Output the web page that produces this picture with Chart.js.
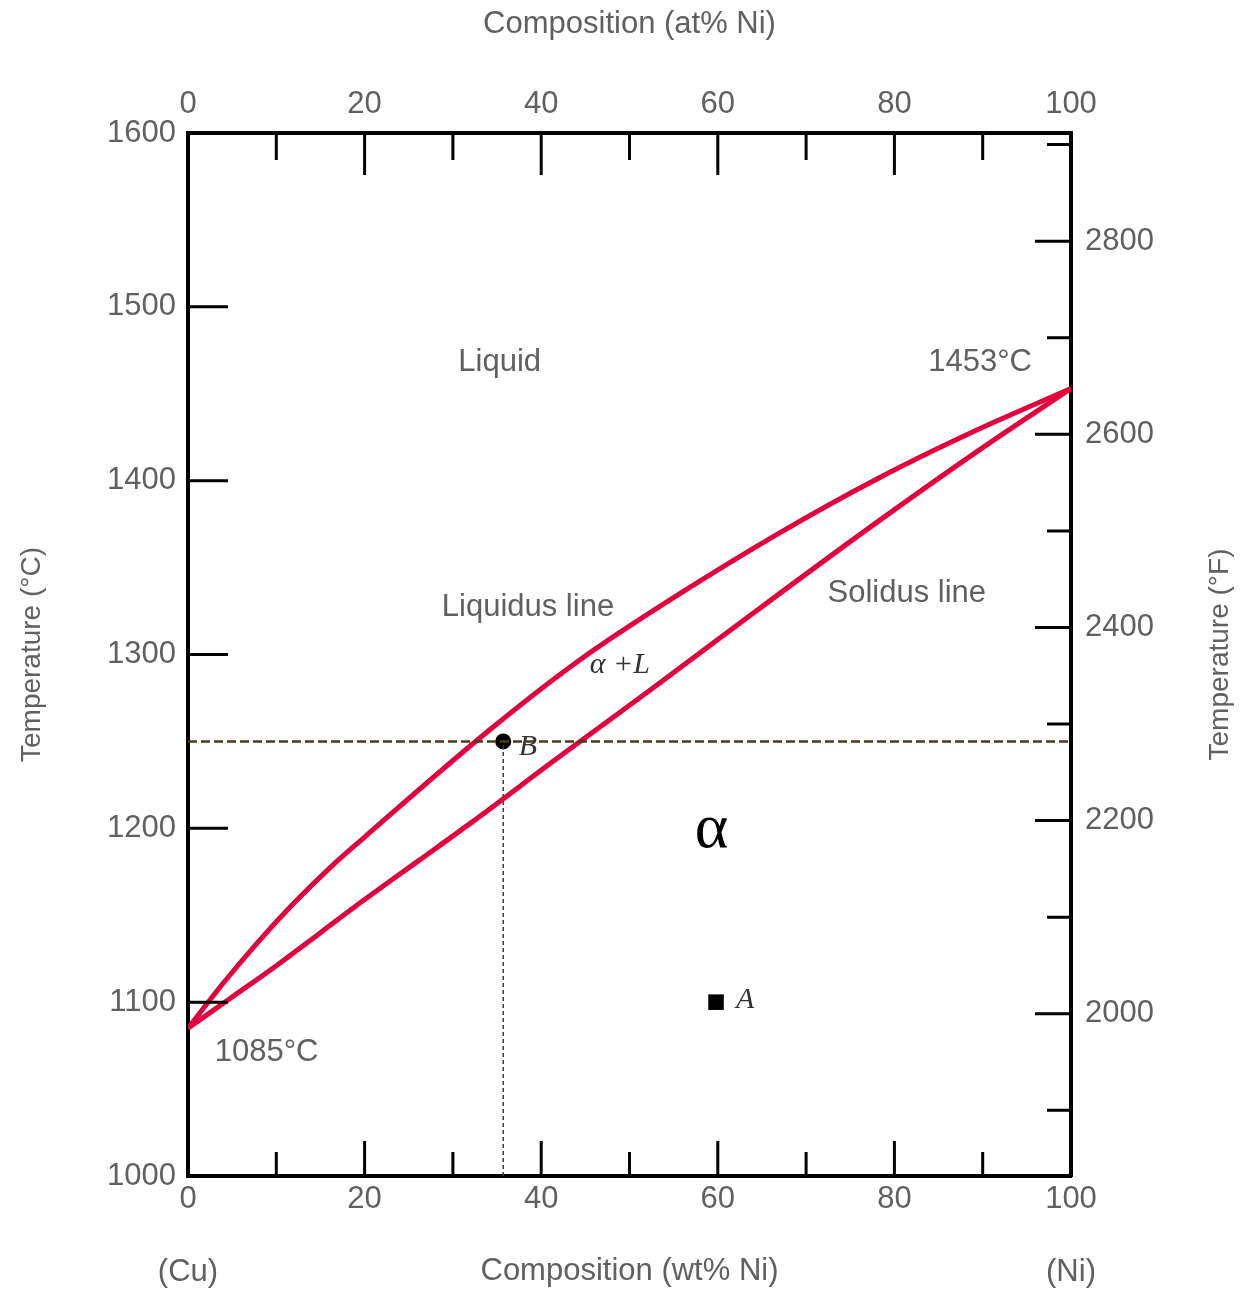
<!DOCTYPE html>
<html>
<head>
<meta charset="utf-8">
<title>Cu-Ni phase diagram</title>
<script src="https://cdn.jsdelivr.net/npm/chart.js@4.4.1/dist/chart.umd.min.js"></script>
<style>
  html, body { margin: 0; padding: 0; background: #fff; }
  #wrap { width: 1240px; height: 1290px; }
</style>
</head>
<body>
<div id="wrap"><canvas id="phaseChart" width="1240" height="1290"></canvas></div>
<script>
// --- DATA ---
// liquidus line: composition (wt% Ni) and temperature (°C)
const liquidusWt = [0, 4, 8, 12, 16, 20, 34, 44.4, 55.7, 67, 78.4, 89.7, 100];
const liquidusT  = [1085, 1111, 1135, 1157, 1177, 1195, 1256, 1297, 1335, 1370, 1402, 1430, 1453];
// solidus line
const solidusWt = [0, 5, 10, 15, 20, 26, 32, 42, 53, 63, 78, 90, 100];
const solidusT  = [1085, 1103, 1121, 1140, 1159, 1181, 1203, 1241, 1282, 1320, 1376, 1419, 1453];

// tie line at point B and the two marked points
const tieLineT = 1250;
const pointB = { x: 35.7, y: 1250 };
const pointA = { x: 59.8, y: 1100 };

// axis ticks
const wtTicks = [0, 10, 20, 30, 40, 50, 60, 70, 80, 90, 100];
const celsiusTicks = [1000, 1100, 1200, 1300, 1400, 1500, 1600];
const fahrenheitTicks = [1900, 2000, 2100, 2200, 2300, 2400, 2500, 2600, 2700, 2800, 2900];
const tMinC = 1000, tMaxC = 1600;
const toF = c => c * 9 / 5 + 32;

// text inside the plot: [text, wt% Ni, °C, kind]
const plotLabels = [
    ['Liquid', 35.3, 1468, 'sans'],
    ['1453°C', 89.7, 1468, 'sans'],
    ['Liquidus line', 38.5, 1327, 'sans'],
    ['Solidus line', 81.4, 1335, 'sans'],
    ['1085°C', 8.9, 1071, 'sans'],
    ['α +L', 48.9, 1294, 'italic'],
    ['B', 38.5, 1247, 'italic'],
    ['A', 63.1, 1101, 'italic'],
    ['α', 59.3, 1199, 'greek']
];

const SANS = "'Liberation Sans', Arial, sans-serif";
const SERIF = "'Liberation Serif', 'DejaVu Serif', serif";
const GREY = '#606060';
const RED = '#e4003c';
const TIE = '#4a3b1e';

function pts(xs, ys) {
    return xs.map((x, i) => ({ x: x, y: ys[i] }));
}

// --- inward tick marks, drawn from the scales' own ticks ---
const insideTicks = {
    id: 'insideTicks',
    afterDraw(chart) {
        const ctx = chart.ctx, a = chart.chartArea;
        const { x, x2, y, y2 } = chart.scales;
        ctx.save();
        ctx.strokeStyle = '#000';
        ctx.lineWidth = 3;
        ctx.beginPath();
        x.ticks.forEach(t => {
            if (t.value <= 0 || t.value >= 100) return;
            const px = x.getPixelForValue(t.value);
            ctx.moveTo(px, a.bottom);
            ctx.lineTo(px, a.bottom - (t.value % 20 === 0 ? 35 : 24));
        });
        x2.ticks.forEach(t => {
            if (t.value <= 0 || t.value >= 100) return;
            const px = x2.getPixelForValue(t.value);
            ctx.moveTo(px, a.top);
            ctx.lineTo(px, a.top + (t.value % 20 === 0 ? 42 : 27));
        });
        y.ticks.forEach(t => {
            if (t.value <= tMinC || t.value >= tMaxC) return;
            const py = y.getPixelForValue(t.value);
            ctx.moveTo(a.left, py);
            ctx.lineTo(a.left + 40, py);
        });
        y2.ticks.forEach(t => {
            const py = y2.getPixelForValue(t.value);
            ctx.moveTo(a.right, py);
            ctx.lineTo(a.right - (t.value % 200 === 0 ? 36 : 24), py);
        });
        ctx.stroke();
        ctx.restore();
    }
};

// --- text labels in the plot + right axis title ---
const plotText = {
    id: 'plotText',
    afterDatasetsDraw(chart) {
        const ctx = chart.ctx, a = chart.chartArea;
        const { x, y } = chart.scales;
        ctx.save();
        ctx.textAlign = 'center';
        ctx.textBaseline = 'middle';
        plotLabels.forEach(([txt, wt, t, kind]) => {
            const px = x.getPixelForValue(wt), py = y.getPixelForValue(t);
            if (kind === 'sans') { ctx.font = '31px ' + SANS; ctx.fillStyle = GREY; }
            else if (kind === 'italic') { ctx.font = 'italic 30px ' + SERIF; ctx.fillStyle = '#333'; }
            else { ctx.font = '64px ' + SERIF; ctx.fillStyle = '#000'; }
            ctx.fillText(txt, px, py);
        });
        // end members under the bottom axis
        ctx.font = '31px ' + SANS;
        ctx.fillStyle = GREY;
        ctx.fillText('(Cu)', x.getPixelForValue(0), 1272);
        ctx.fillText('(Ni)', x.getPixelForValue(100), 1272);
        // right axis title, reading upward like the left one
        ctx.font = '28px ' + SANS;
        ctx.translate(1220, (a.top + a.bottom) / 2);
        ctx.rotate(-Math.PI / 2);
        ctx.fillText('Temperature (°F)', 0, 0);
        ctx.restore();
    }
};

const tickFont = { family: SANS, size: 31 };

new Chart(document.getElementById('phaseChart'), {
    type: 'line',
    data: {
        datasets: [
            {
                label: 'Tie line',
                data: [{ x: 0, y: tieLineT }, { x: 100, y: tieLineT }],
                borderColor: TIE, borderWidth: 2.5, borderDash: [9, 4],
                pointRadius: 0
            },
            {
                label: 'Drop line B',
                data: [{ x: pointB.x, y: tMinC }, { x: pointB.x, y: pointB.y }],
                borderColor: TIE, borderWidth: 1.5, borderDash: [4, 3],
                pointRadius: 0
            },
            {
                label: 'B',
                type: 'scatter',
                data: [pointB],
                pointStyle: 'circle', pointRadius: 8,
                backgroundColor: '#000', borderColor: '#000', borderWidth: 0
            },
            {
                label: 'A',
                type: 'scatter',
                data: [pointA],
                pointStyle: 'rect', pointRadius: 11,
                backgroundColor: '#000', borderColor: '#000', borderWidth: 0
            },
            {
                label: 'Liquidus',
                data: pts(liquidusWt, liquidusT),
                borderColor: RED, borderWidth: 5,
                pointRadius: 0, cubicInterpolationMode: 'monotone'
            },
            {
                label: 'Solidus',
                data: pts(solidusWt, solidusT),
                borderColor: RED, borderWidth: 5,
                pointRadius: 0, cubicInterpolationMode: 'monotone'
            }
        ]
    },
    options: {
        responsive: false,
        animation: false,
        layout: { padding: 0 },
        plugins: { legend: { display: false }, tooltip: { enabled: false } },
        scales: {
            x: {
                type: 'linear', position: 'bottom', min: 0, max: 100,
                afterBuildTicks: s => { s.ticks = wtTicks.map(v => ({ value: v })); },
                afterFit: s => { s.height = 114; },
                grid: { display: false, drawTicks: false },
                border: { display: true, color: '#000', width: 4 },
                ticks: { callback: v => (v % 20 === 0 ? String(v) : ''), font: tickFont, color: GREY, padding: 5, maxRotation: 0, autoSkip: false },
                title: { display: true, text: 'Composition (wt% Ni)', font: tickFont, color: GREY, padding: { top: 0, bottom: 0 } }
            },
            x2: {
                type: 'linear', position: 'top', min: 0, max: 100,
                afterBuildTicks: s => { s.ticks = wtTicks.map(v => ({ value: v })); },
                afterFit: s => { s.height = 133; },
                grid: { display: false, drawTicks: false },
                border: { display: true, color: '#000', width: 4 },
                ticks: { callback: v => (v % 20 === 0 ? String(v) : ''), font: tickFont, color: GREY, padding: 10, maxRotation: 0, autoSkip: false },
                title: { display: true, text: 'Composition (at% Ni)', font: tickFont, color: GREY, padding: { top: 6, bottom: 0 } }
            },
            y: {
                type: 'linear', position: 'left', min: tMinC, max: tMaxC,
                afterBuildTicks: s => { s.ticks = celsiusTicks.map(v => ({ value: v })); },
                afterFit: s => { s.width = 188; },
                grid: { display: false, drawTicks: false },
                border: { display: true, color: '#000', width: 4 },
                ticks: { callback: v => String(v), font: tickFont, color: GREY, padding: 12, autoSkip: false },
                title: { display: true, text: 'Temperature (°C)', font: { family: SANS, size: 28 }, color: GREY, padding: { top: 15, bottom: 0 } }
            },
            y2: {
                type: 'linear', position: 'right', min: toF(tMinC), max: toF(tMaxC),
                afterBuildTicks: s => { s.ticks = fahrenheitTicks.map(v => ({ value: v })); },
                afterFit: s => { s.width = 169; },
                grid: { display: false, drawTicks: false },
                border: { display: true, color: '#000', width: 4 },
                ticks: { callback: v => (v % 200 === 0 ? String(v) : ''), font: tickFont, color: GREY, padding: 14, autoSkip: false }
            }
        }
    },
    plugins: [insideTicks, plotText]
});
</script>
</body>
</html>
